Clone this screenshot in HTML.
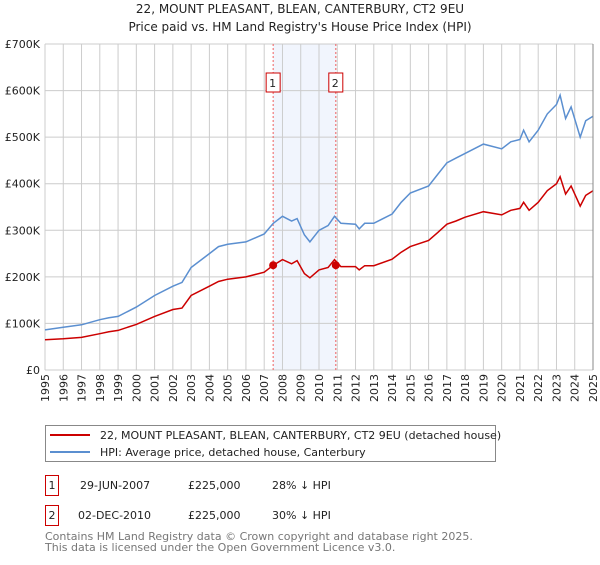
<!DOCTYPE html>
<html><head><meta charset="utf-8"><style>
body{margin:0;background:#fff;font-family:"Liberation Sans","DejaVu Sans",sans-serif;}
</style></head><body>
<svg width="600" height="560" xmlns="http://www.w3.org/2000/svg" font-family="'DejaVu Sans','Liberation Sans',sans-serif">
<text x="300" y="13" text-anchor="middle" font-size="12" fill="#222">22, MOUNT PLEASANT, BLEAN, CANTERBURY, CT2 9EU</text>
<text x="300" y="31" text-anchor="middle" font-size="12" fill="#222">Price paid vs. HM Land Registry's House Price Index (HPI)</text>
<g id="plot"></g>
<g>
<rect x="45.5" y="425.5" width="450" height="36" fill="#fff" stroke="#888"/>
<line x1="50" y1="435" x2="90" y2="435" stroke="#cc0000" stroke-width="2"/>
<text x="100" y="439" font-size="11" fill="#222">22, MOUNT PLEASANT, BLEAN, CANTERBURY, CT2 9EU (detached house)</text>
<line x1="50" y1="452" x2="90" y2="452" stroke="#5b8fd0" stroke-width="2"/>
<text x="100" y="456" font-size="11" fill="#222">HPI: Average price, detached house, Canterbury</text>
</g>
<g font-size="11" fill="#222">
<rect x="45.5" y="475.5" width="13" height="20" fill="#fff" stroke="#cc0000"/>
<text x="52" y="489" text-anchor="middle">1</text>
<text x="80" y="489">29-JUN-2007</text><text x="188" y="489">£225,000</text><text x="272" y="489">28% ↓ HPI</text>
<rect x="45.5" y="505.5" width="13" height="20" fill="#fff" stroke="#cc0000"/>
<text x="52" y="519" text-anchor="middle">2</text>
<text x="78" y="519">02-DEC-2010</text><text x="188" y="519">£225,000</text><text x="272" y="519">30% ↓ HPI</text>
</g>
<text x="45" y="540" font-size="11" fill="#777">Contains HM Land Registry data © Crown copyright and database right 2025.</text>
<text x="45" y="551" font-size="11" fill="#777">This data is licensed under the Open Government Licence v3.0.</text>
</svg>
<script>
const hpiYears=[1995,1996,1997,1998,1998.5,1999,2000,2001,2002,2002.5,2003,2004,2004.5,2005,2006,2007,2007.5,2008,2008.5,2008.8,2009.2,2009.5,2010,2010.5,2010.85,2011.2,2012,2012.2,2012.5,2013,2014,2014.5,2015,2016,2016.5,2017,2017.5,2018,2019,2020,2020.5,2021,2021.2,2021.5,2022,2022.5,2023,2023.2,2023.5,2023.8,2024.3,2024.6,2025];
const hpiValues=[86,92,97,108,112,115,135,160,180,188,220,250,265,270,275,292,315,330,320,325,290,275,300,310,330,315,313,303,315,315,335,360,380,395,420,445,455,465,485,475,490,495,515,490,515,550,570,590,540,565,500,535,545];
const redValues=[65,67,70,78,82,85,98,115,130,133,160,180,190,195,200,210,225,237,228,235,207,198,215,220,237,222,222,215,224,224,238,253,265,278,295,313,320,328,340,333,343,347,360,343,360,385,400,415,378,395,352,375,385];
const yTicks=[0,100,200,300,400,500,600,700];
const yTickLabels=["£0","£100K","£200K","£300K","£400K","£500K","£600K","£700K"];
const xTicks=[1995,1996,1997,1998,1999,2000,2001,2002,2003,2004,2005,2006,2007,2008,2009,2010,2011,2012,2013,2014,2015,2016,2017,2018,2019,2020,2021,2022,2023,2024,2025];
const saleDates=[2007.49,2010.92];
const salePrices=[225,225];
const saleLabels=["1","2"];
const X0=45,X1=593,Y0=370,Y1=44;
const xs=v=>X0+(v-1995)/30*(X1-X0);
const ys=v=>Y0-v/700*(Y0-Y1);
const NS="http://www.w3.org/2000/svg";
const g=document.getElementById('plot');
function mk(t,a){const e=document.createElementNS(NS,t);for(const k in a)e.setAttribute(k,a[k]);g.appendChild(e);return e;}
let r=mk('rect',{x:xs(saleDates[0]),y:Y1,width:xs(saleDates[1])-xs(saleDates[0]),height:Y0-Y1,fill:'#eef3fc',opacity:0.8});


xTicks.forEach(t=>{
 let l=mk('line',{x1:xs(t),x2:xs(t),y1:Y1,y2:Y0,stroke:'#ccc','stroke-width':1});
 
 
 let tx=mk('text',{x:0,y:0,'font-size':11,fill:'#222','text-anchor':'end',transform:`translate(${xs(t)+4},374) rotate(-90)`});
 tx.textContent=t;
 
 
});
yTicks.forEach((t,i)=>{
 let l=mk('line',{x1:X0,x2:X1,y1:ys(t),y2:ys(t),stroke:'#ccc','stroke-width':1});
 
 
 let tx=mk('text',{x:40,y:ys(t)+4,'font-size':11,fill:'#222','text-anchor':'end'});
 tx.textContent=yTickLabels[i];
 
 
});
saleDates.forEach((d,i)=>{
 let l=mk('line',{x1:xs(d),x2:xs(d),y1:Y1,y2:Y0,stroke:'#f06060','stroke-dasharray':'2,2','stroke-width':1});
 
 
 let b=mk('rect',{x:xs(d)-7,y:73,width:14,height:19,fill:'#fff',stroke:'#cc0000'});
 
 
 let tx=mk('text',{x:xs(d)-0.5,y:87,'font-size':11,fill:'#222','text-anchor':'middle'});
 tx.textContent=saleLabels[i];
 
 
});
let hp=mk('path',{d:hpiYears.map((y,i)=>(i?'L':'M')+xs(y).toFixed(1)+','+ys(hpiValues[i]).toFixed(1)).join(''),fill:'none',stroke:'#5b8fd0','stroke-width':1.5});


let rp=mk('path',{d:hpiYears.map((y,i)=>(i?'L':'M')+xs(y).toFixed(1)+','+ys(redValues[i]).toFixed(1)).join(''),fill:'none',stroke:'#cc0000','stroke-width':1.5});


saleDates.forEach((d,i)=>{
 let c=mk('circle',{cx:xs(d),cy:ys(salePrices[i]),r:4,fill:'#cc0000'});
 
 
});
let ax=mk('line',{x1:X1,x2:X1,y1:Y1,y2:Y0,stroke:'#888','stroke-width':1});


</script>
</body></html>
